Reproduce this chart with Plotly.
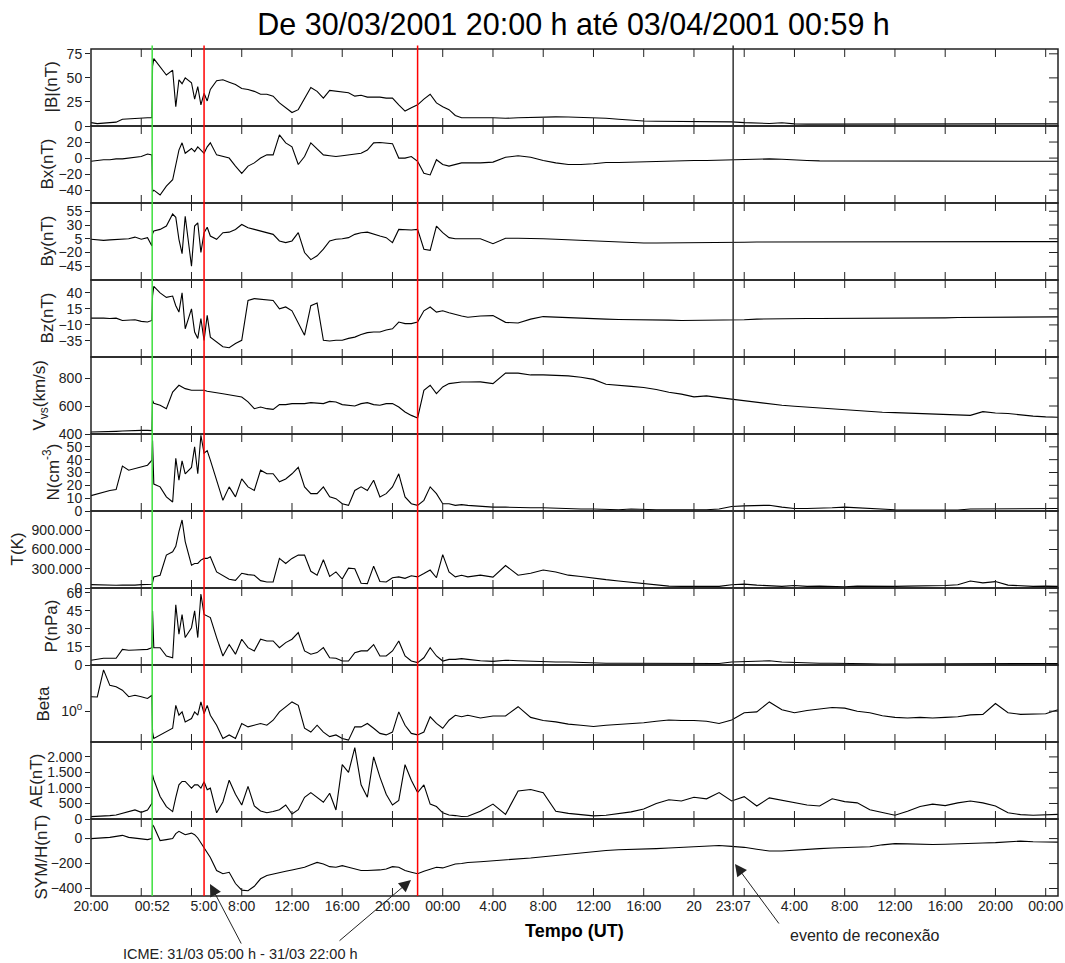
import math
import plotly.graph_objects as go

# ---------------- data (hours since 30/03/2001 20:00 UT) ----------------
T_H = [0, 0.5, 1, 1.5, 2, 2.5, 3, 3.5, 4, 4.5,
       4.85, 4.9, 5, 5.5, 6, 6.5, 6.75, 7, 7.25, 7.5, 8, 8.25, 8.5, 8.75, 9, 9.25, 9.5,
       10, 10.5, 11, 11.5, 12, 12.5, 13, 13.5, 14, 14.5, 15, 15.5, 16, 16.5, 17, 17.5, 18, 18.5, 19, 19.5,
       20, 20.5, 21, 21.5, 22, 22.5, 23, 23.5, 24, 24.5, 25, 25.5, 26, 26.5, 27, 27.5, 28, 28.5, 29, 29.5, 30,
       31, 32, 33, 34, 35, 36, 37, 38, 39, 40,
       41, 42, 43, 44, 45, 46, 47, 48, 49, 50,
       51, 52, 53, 54, 55, 56, 57, 58, 59, 60,
       61, 62, 63, 64, 65, 66, 67, 68, 69, 70,
       71, 72, 73, 74, 75, 76,
       76.98]

B_TOT = [3.5, 2.5, 3, 3.5, 4, 7, 7.5, 8, 8.5, 8.5,
         8.5, 62, 70, 62, 53, 58, 20, 48, 44, 50, 45, 28, 41, 22, 34, 26, 38,
         47, 48, 45.5, 43, 39, 38, 36, 33, 33, 31, 24, 19, 14, 17, 28, 40, 36, 29, 37, 36,
         35, 34.5, 31, 32, 30, 30, 30, 29, 29, 22, 15.5, 19, 22, 28, 33, 24, 20, 17, 11, 8.5, 8.3,
         8.5, 8.5, 8, 8.5, 9, 9.5, 9.5, 9.3, 9, 8.5,
         8, 7, 6, 5.2, 5, 5, 4.8, 4.6, 4.5, 4.5,
         4.3, 3.5, 3, 2.6, 3.4, 2.2, 2, 2, 2, 1.9,
         1.9, 1.9, 2, 2, 1.9, 1.9, 1.9, 2, 2, 2.1,
         2.2, 2, 2, 2, 2.1, 2.2,
         2.2]

B_X = [-4, -3, -2, -2, -1, -1, 0, 1, 2, 5,
       4, -42, -40, -46, -35, -27, -10, 10, 19, 6, 12, 8, 14, 10, 6, 14, 19,
       4, 2, 0, -10, -19, -10, -6, 0, 4, 4, 29, 19, 14, -8, 2, 19, 12, 4, 3, 2,
       3, 4, 5, 6, 10, 19, 19.5, 19, 18, 0, 0, 2, -4, -19, -21, -2, -8, -10, -8, -6, -6,
       -6, -5, 1, 3, 1, -3, -6, -8, -8, -7,
       -5.5, -5.5, -5, -5, -4.5, -4, -3.5, -3, -3, -2.5,
       -2.5, -2, -1.5, -1, -1.5, -2.5, -3, -3.5, -3.5, -3.5,
       -4, -4, -4, -4, -4, -4, -4, -4, -4, -4,
       -4, -4, -4, -4, -4, -4,
       -4]

B_Y = [4, 3, 2, 3, 4, 4, 5, 8, 4, 7,
       -8, 14, 19, 22, 28, 50, 44, 4, -22, 46, -45, 28, 34, -20, 16, 26, 10,
       4, 16, 17, 22, 31, 25, 22, 19, 16, 13, 1, -2, 1, 16, -20, -33, -26, -14, 1, 4,
       5, 7, 13, 16, 17, 13, 10, 7, -2, 22, 21, 21, 22, -14, -16, 28, 16, 7, 5, 5, 5,
       5, -4, 6, 6, 6, 5, 4, 3, 2, 1,
       0, -1.5, -2.5, -2.8, -2.8, -2.8, -2.5, -2.5, -2, -2,
       -1.8, -1.5, -1, -1, -0.8, -0.8, -0.8, -0.6, -0.6, -0.5,
       -0.5, -0.5, -0.4, -0.4, -0.4, -0.3, -0.3, -0.3, -0.3, -0.2,
       -0.2, -0.2, -0.2, -0.2, -0.2, -0.2,
       -0.2]

B_Z = [0.6, 1, 0.6, 0, 0.6, -3, -3, -2, -4.5, -5.5,
       -3, 35, 50, 40, 33, 35, 20, 10, 40, -16, 15, -21, -31, 0, -34, 5, -29,
       -36, -44, -45.6, -39, -34, 28, 31, 30, 30, 28, 15, 18, 12, -8, -26, 20, 24, -34, -35, -34,
       -34, -31, -29, -25, -22, -21, -21, -18, -16, -5.5, -8, -8, -5.5, 12, 18, 10, 12, 9, 6, 4, 2,
       4, 4.5, -6, -7, -1, 3, 2, 1, 0, 0,
       -1, -1.5, -1.5, -2, -2, -2.5, -3, -3, -3, -3,
       -3, -2, -1, -0.5, 0, 0, 0, 0, 0, 0.5,
       0.5, 0.5, 0.5, 0.5, 1, 1, 1, 1, 1.5, 1.5,
       1.5, 1.5, 2, 2, 2, 2.5,
       2.5]

V_SW = [414, 414, 414, 416, 419, 421, 424, 425, 426, 426,
        424, 640, 620, 605, 581, 700, 724, 748, 736, 724, 712, 712, 712, 708, 712, 705, 700,
        695, 688, 681, 676, 664, 629, 581, 593, 581, 576, 610, 610, 617, 617, 617, 624, 621, 617, 633, 629,
        610, 605, 600, 617, 624, 610, 605, 617, 617, 593, 557, 533, 515, 712, 748, 688, 736, 760, 767, 771, 771,
        772, 760, 835, 835, 822, 822, 818, 815, 805, 790,
        755, 750, 740, 732, 718, 698, 685, 665, 672, 660,
        648, 638, 625, 614, 605, 598, 592, 585, 578, 572,
        565, 558, 555, 553, 550, 548, 545, 541, 538, 533,
        560, 550, 546, 535, 528, 522,
        520]

N_P = [12, 13.5, 15, 16, 16.7, 35, 31.8, 33, 34.4, 35.7,
       39.6, 55, 21, 18.8, 11, 7, 41, 24, 39, 29, 34, 50, 29, 59, 45, 47, 39.6,
       24, 8.3, 18.8, 11, 25, 18.8, 16, 31.8, 29, 29, 22.7, 25, 29, 34, 18.8, 13.5, 13.5, 18.8, 11, 9.6,
       5.7, 4.4, 16, 18.8, 16, 24, 11, 13.5, 18.8, 29, 11, 5.7, 4.4, 8.3, 18.8, 13.5, 5.7, 5.7, 4.4, 5, 4.4,
       3.5, 3, 3, 2.5, 2.5, 2.5, 2, 2, 1.5, 1.5,
       1, 1, 1.5, 1, 1, 1, 0.8, 0.8, 1, 1.5,
       3.5, 4, 4.5, 4.5, 3, 2, 2, 2, 2.5, 3,
       2.5, 1.5, 1, 1, 0.8, 0.8, 0.8, 0.8, 0.8, 1.5,
       1.5, 2, 2, 2, 2, 2,
       2]

TEMP_K = [52000, 48000, 42000, 42000, 42000, 45000, 42000, 45000, 52000, 55000,
          58000, 84000, 173000, 199000, 513000, 565000, 650000, 880000, 1060000, 723000, 356000, 382000, 382000, 435000, 461000, 461000, 487000,
          251000, 199000, 136000, 120000, 230000, 209000, 199000, 115000, 94000, 94000, 461000, 382000, 461000, 513000, 513000, 260000, 199000, 440000, 180000, 251000,
          140000, 310000, 300000, 75000, 68000, 340000, 100000, 94000, 160000, 173000, 150000, 190000, 173000, 225000, 280000, 160000, 520000, 251000, 173000, 199000, 173000,
          200000, 170000, 350000, 200000, 230000, 280000, 250000, 200000, 180000, 150000,
          130000, 110000, 90000, 70000, 50000, 30000, 25000, 25000, 30000, 25000,
          50000, 60000, 45000, 30000, 25000, 40000, 25000, 30000, 25000, 20000,
          30000, 25000, 20000, 25000, 30000, 30000, 30000, 40000, 50000, 110000,
          80000, 100000, 45000, 30000, 25000, 30000,
          25000]

P_DYN = [3.9, 4.7, 5.6, 5.6, 5.6, 13, 12.2, 12.5, 13, 13,
         14.4, 45, 14.4, 14.4, 7.5, 6, 50, 25.6, 42, 22.8, 31, 45, 22.8, 59, 42, 41, 39.4,
         22.8, 7.5, 17, 9, 21.4, 14.4, 11.7, 21.4, 20, 20, 14.4, 18.6, 21.4, 27, 11.7, 9, 10.3, 14.4, 6, 5.6,
         3.3, 3.3, 10.3, 11.7, 11.7, 17, 7.5, 7.5, 11.7, 20, 7.5, 3.3, 2, 6, 14.4, 7.5, 3.3, 4.7, 4.7, 5.3, 4.7,
         3.5, 3, 4, 3.5, 3, 3, 2.5, 2.5, 2, 2,
         1.5, 1.5, 1.5, 1.2, 1.2, 1, 1, 1, 1, 1.2,
         2.5, 3, 3, 3.5, 2.5, 2, 1.5, 1.5, 1.5, 1.5,
         1.2, 1, 0.8, 0.8, 0.8, 0.8, 0.8, 0.8, 0.8, 1,
         1, 1.2, 1.2, 1.2, 1.2, 1.2,
         1.2]

BETA = [2.95, 2.9, 22, 6.9, 6.2, 4.8, 2.95, 3.3, 2.95, 2.6,
        3.3, 0.21, 0.13, 0.17, 0.21, 0.28, 1.55, 0.74, 0.95, 0.45, 0.58, 0.95, 0.74, 2.0, 0.83, 1.55, 0.74,
        0.35, 0.13, 0.17, 0.13, 0.4, 0.31, 0.35, 0.4, 0.35, 0.51, 0.95, 1.38, 2.0, 1.55, 0.28, 0.21, 0.35, 0.21, 0.15, 0.17,
        0.13, 0.115, 0.31, 0.31, 0.4, 0.28, 0.19, 0.17, 0.21, 0.95, 0.35, 0.19, 0.17, 0.21, 0.66, 0.4, 0.28, 0.51, 0.74, 0.66, 0.74,
        0.6, 0.7, 0.7, 1.4, 0.63, 0.5, 0.45, 0.38, 0.35, 0.32,
        0.35, 0.37, 0.38, 0.42, 0.47, 0.52, 0.5, 0.5, 0.47, 0.4,
        0.52, 0.89, 0.95, 2.0, 1.12, 0.89, 1.05, 1.2, 1.32, 1.26,
        1.0, 0.89, 0.71, 0.63, 0.6, 0.63, 0.6, 0.63, 0.66, 0.76,
        0.79, 1.78, 0.89, 0.79, 0.79, 0.83,
        1.12]

AE = [76, 80, 97, 110, 130, 184, 259, 292, 216, 292,
      508, 1426, 1264, 724, 400, 238, 700, 1102, 1210, 1210, 994, 1100, 1102, 994, 1200, 940, 994,
      200, 550, 1250, 800, 450, 1050, 420, 260, 200, 240, 300, 450, 160, 300, 700, 850, 700, 540, 830, 290,
      1750, 1500, 2300, 1100, 700, 2000, 1350, 800, 450, 600, 1750, 1250, 850, 1100, 480, 400, 200, 130, 110, 80, 90,
      250, 480, 150, 900, 950, 850, 250, 180, 130, 100,
      120, 180, 230, 320, 500, 620, 580, 700, 650, 850,
      580, 720, 420, 680, 600, 540, 450, 420, 650, 560,
      520, 300, 200, 120, 250, 400, 480, 430, 520, 580,
      520, 420, 200, 140, 120, 140,
      150]

SYM_H = [0, 3, 5, 10, 18, 26, 10, 3, -3, -8,
         0, 110, 97, -16, -8, 0, 40, 58, 44, 31, 44, 31, 5, -34, -73, -112, -152,
         -256, -282, -270, -360, -413, -418, -382, -322, -295, -282, -269, -261, -251, -243, -230, -209, -191, -204, -225, -230,
         -217, -230, -243, -256, -256, -256, -251, -243, -225, -230, -256, -269, -282, -261, -243, -230, -235, -217, -204, -199, -191,
         -185, -178, -172, -165, -155, -145, -135, -125, -110, -100,
         -95, -90, -88, -85, -80, -75, -70, -65, -58, -55,
         -62, -70, -85, -100, -100, -92, -88, -80, -75, -72,
         -70, -65, -50, -40, -42, -45, -47, -45, -40, -38,
         -35, -32, -28, -20, -25, -28,
         -28]

# x tick marks (every 4 h) and bottom labels
X_MAJOR = [4, 8, 12, 16, 20, 24, 28, 32, 36, 40, 44, 48, 52, 56, 60, 64, 68, 72, 76]
X_LABEL_POS = [0, 4.87, 9, 12, 16, 20, 24, 28, 32, 36, 40, 44, 48, 51.12, 56, 60, 64, 68, 72, 76]
X_LABEL_TXT = ["20:00", "00:52", "5:00", "8:00", "12:00", "16:00", "20:00", "00:00", "4:00", "8:00",
               "12:00", "16:00", "20", "23:07", "4:00", "8:00", "12:00", "16:00", "20:00", "00:00"]
X_END = 76.98

# event lines: (time, colour)
EVENTS = [(4.87, "#3ee03e"), (9, "#ff0000"), (26, "#ff0000"), (51.12, "#333333")]

# (title, series, y range, tick values, tick texts, axis type, title x-position in px)
PANELS = [
    ("|B|(nT)", B_TOT, [0, 80], [0, 25, 50, 75], None, "linear", 51),
    ("Bx(nT)", B_X, [-56, 40], [-40, -20, 0, 20], None, "linear", 47),
    ("By(nT)", B_Y, [-70, 70], [-45, -20, 5, 30, 55], None, "linear", 47),
    ("Bz(nT)", B_Z, [-60, 60], [-35, -10, 15, 40], None, "linear", 47),
    ("V<sub>vs</sub>(km/s)", V_SW, [400, 950], [400, 600, 800], None, "linear", 40),
    ("N(cm<sup>-3</sup>)", N_P, [0, 60], [0, 10, 20, 30, 40, 50], None, "linear", 51),
    ("T(K)", TEMP_K, [0, 1.2e6], [0, 300000, 600000, 900000], ["0", "300.000", "600.000", "900.000"], "linear", 17),
    ("P(nPa)", P_DYN, [0, 64], [0, 15, 30, 45, 60], None, "linear", 51),
    ("Beta", BETA, [-1, 1.5], [1], ["10<sup>0</sup>"], "log", 43),
    ("AE(nT)", AE, [0, 2480], [0, 500, 1000, 1500, 2000], ["0", "500", "1.000", "1.500", "2.000"], "linear", 36),
    ("SYM/H(nT)", SYM_H, [-460, 157], [-400, -200, 0], None, "linear", 41),
]

for p in PANELS:
    assert len(p[1]) == len(T_H), (p[0], len(p[1]), len(T_H))

# ---------------- figure ----------------
FONT = "Arial, Liberation Sans, sans-serif"
LINE = "#222222"
TXT = "#222222"

W, H = 1065, 963
ML, MR, MT, MB = 91, 7, 49, 67
PW, PH = W - ML - MR, H - MT - MB


def px(xp, yp):
    return (xp - ML) / PW, (H - MB - yp) / PH


fig = go.Figure()
n = len(PANELS)
h = 1.0 / n
panel_px = PH * h
layout = {}
shapes = []
annots = []

for i, (title, vals, rng, tv, tt, typ, title_x) in enumerate(PANELS):
    k = i + 1
    xn = "x" if k == 1 else f"x{k}"
    yn = "y" if k == 1 else f"y{k}"
    fig.add_trace(go.Scatter(x=T_H, y=vals, mode="lines",
                             line=dict(color="black", width=1.1),
                             xaxis=xn, yaxis=yn, showlegend=False, hoverinfo="skip"))
    is_bottom = (k == n)
    xa = dict(domain=[0, 1], anchor=yn, range=[0, X_END], automargin=False,
              showline=False, ticks="", showgrid=False, zeroline=False,
              tickvals=X_LABEL_POS, showticklabels=is_bottom)
    if is_bottom:
        xa["ticktext"] = X_LABEL_TXT
        xa["tickfont"] = dict(size=14, color=TXT, family=FONT)
    ya = dict(domain=[1 - (i + 1) * h, 1 - i * h], anchor=xn, range=rng, type=typ, automargin=False,
              tickvals=tv, ticks="outside", ticklen=5, tickwidth=1, tickcolor=LINE,
              showline=False, showgrid=False, zeroline=False,
              tickfont=dict(size=14, color=TXT, family=FONT))
    if tt is not None:
        ya["ticktext"] = tt
    layout["xaxis" if k == 1 else f"xaxis{k}"] = xa
    layout["yaxis" if k == 1 else f"yaxis{k}"] = ya

    # axis title (rotated), placed left of the tick labels
    annots.append(dict(text=title, textangle=-90, xref="paper", yref=f"{yn} domain",
                       x=px(title_x, 0)[0], y=0.5, xanchor="center", yanchor="middle",
                       showarrow=False, font=dict(size=17, color=TXT, family=FONT)))

    # panel frame
    shapes.append(dict(type="rect", xref=f"{xn} domain", yref=f"{yn} domain",
                       x0=0, x1=1, y0=0, y1=1, line=dict(color=LINE, width=1.5)))
    # time tick marks on the bottom and top edges of each panel (pointing inwards)
    tl = 8 / panel_px
    for t in X_MAJOR:
        shapes.append(dict(type="line", xref=xn, yref=f"{yn} domain", x0=t, x1=t, y0=0, y1=tl,
                           line=dict(color=LINE, width=1)))
        shapes.append(dict(type="line", xref=xn, yref=f"{yn} domain", x0=t, x1=t, y0=1 - tl, y1=1,
                           line=dict(color=LINE, width=1)))
    # right-hand inside tick marks, placed from the axis range
    lo, hi = rng
    for v in tv:
        pos = math.log10(v) if typ == "log" else v
        frac = (pos - lo) / (hi - lo)
        shapes.append(dict(type="line", xref=f"{xn} domain", yref=f"{yn} domain",
                           x0=1 - 9 / PW, x1=1, y0=frac, y1=frac,
                           line=dict(color=LINE, width=1)))

for t, c in EVENTS:
    shapes.append(dict(type="line", xref="x", yref="paper", x0=t, x1=t, y0=0, y1=1.004,
                       line=dict(color=c, width=1.5), layer="above"))

tx, ty = px(574, 931)
annots.append(dict(text="<b>Tempo (UT)</b>", x=tx, y=ty, xref="paper", yref="paper",
                   xanchor="center", yanchor="middle",
                   showarrow=False, font=dict(size=18, color="black", family=FONT)))
ix, iy = px(240, 954)
annots.append(dict(text="ICME: 31/03 05:00 h - 31/03 22:00 h", x=ix, y=iy, xref="paper", yref="paper",
                   xanchor="center", yanchor="middle",
                   showarrow=False, font=dict(size=14.5, color=TXT, family=FONT)))
rx, ry = px(865, 935)
annots.append(dict(text="evento de reconexão", x=rx, y=ry, xref="paper", yref="paper",
                   xanchor="center", yanchor="middle",
                   showarrow=False, font=dict(size=16, color=TXT, family=FONT)))
for (tipx, tipy, tailx, taily) in [(210, 884, 242, 945), (411, 880, 338, 942), (735, 864, 780, 925)]:
    ax_, ay_ = px(tipx, tipy)
    annots.append(dict(text="", x=ax_, y=ay_, xref="paper", yref="paper", showarrow=True,
                       ax=tailx - tipx, ay=taily - tipy, arrowhead=2, arrowsize=2.4,
                       arrowwidth=1, arrowcolor="#222222", standoff=0))

fig.update_layout(
    template="none",
    width=W, height=H,
    margin=dict(l=ML, r=MR, t=MT, b=MB, pad=0, autoexpand=False),
    paper_bgcolor="white", plot_bgcolor="white",
    font=dict(family=FONT, color=TXT),
    title=dict(text="De 30/03/2001 20:00 h até 03/04/2001 00:59 h", x=573.5 / W, xref="container",
               xanchor="center", y=1 - 24 / H, yref="container", yanchor="middle",
               font=dict(size=30.5, color="black", family=FONT)),
    showlegend=False,
    shapes=shapes,
    annotations=annots,
    **layout,
)

fig.write_html("out.html", config={"displayModeBar": False},
               post_script="document.body.style.margin='0';document.body.style.overflow='hidden';")
